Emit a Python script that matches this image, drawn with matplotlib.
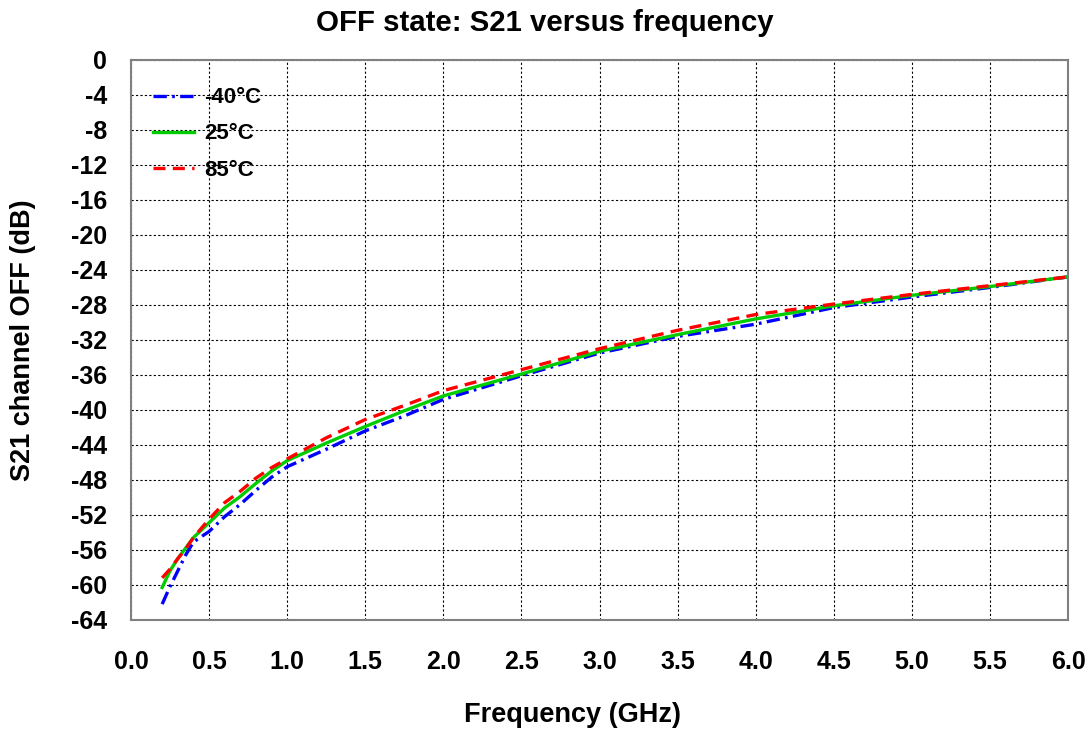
import numpy as np
import matplotlib
matplotlib.use("Agg")
import matplotlib.pyplot as plt

plt.rcParams["font.family"] = ["Liberation Sans", "DejaVu Sans"]
plt.rcParams["font.weight"] = "bold"

# frequency points (GHz) and S21 OFF (dB)
freq = [0.2, 0.25, 0.3, 0.35, 0.4, 0.5, 0.6, 0.7, 0.8, 0.9, 1.0, 1.25, 1.5, 1.75,
        2.0, 2.5, 3.0, 3.5, 4.0, 4.5, 5.0, 5.5, 6.0]
s21_m40 = [-62.2, -60.2, -58.4, -56.6, -55.1, -53.9, -52.2, -50.8, -49.2, -47.7, -46.5, -44.5, -42.4, -40.7,
           -38.8, -36.1, -33.5, -31.6, -30.2, -28.3, -27.1, -26.0, -24.8]
s21_25 = [-60.3, -58.4, -57.0, -55.8, -54.6, -52.9, -51.2, -49.9, -48.4, -47.0, -45.8, -43.8, -41.9, -40.1,
          -38.4, -35.9, -33.3, -31.4, -29.6, -28.1, -26.9, -25.9, -24.8]
s21_85 = [-59.2, -58.2, -57.0, -55.9, -54.6, -52.5, -50.6, -49.3, -47.8, -46.6, -45.6, -43.2, -41.1, -39.5,
          -37.8, -35.4, -33.0, -30.9, -29.1, -27.9, -26.8, -25.8, -24.8]

xticks = np.arange(0, 6.01, 0.5)
yticks = np.arange(-64, 0.1, 4)

fig = plt.figure(figsize=(10.91, 7.31), dpi=100)
ax = fig.add_axes([0.12, 0.152, 0.859, 0.766])

ax.plot(freq, s21_m40, color="#0000ff", lw=2.4, dashes=(4, 1.6, 0.8, 1.6), label="-40°C")
ax.plot(freq, s21_25, color="#00cc00", lw=2.4, label="25°C")
ax.plot(freq, s21_85, color="#ff0000", lw=2.4, dashes=(3.6, 2.2), label="85°C")

ax.set_xlim(0, 6)
ax.set_ylim(-64, 0)
ax.set_xticks(xticks)
ax.set_yticks(yticks)
ax.set_xticklabels([f"{v:.1f}" for v in xticks])
ax.set_yticklabels([f"{int(v)}" for v in yticks])
ax.tick_params(axis="both", length=0, labelsize=18)
ax.tick_params(axis="x", pad=22)
ax.tick_params(axis="y", pad=17)
ax.grid(True, color="black", linestyle=(0, (2, 2)), linewidth=0.8)

for s in ax.spines.values():
    s.set_color("#808080")
    s.set_linewidth(1.5)

ax.set_title("OFF state: S21 versus frequency", fontsize=21.2, fontweight="bold",
             pad=21, x=0.442)
ax.set_xlabel("Frequency (GHz)", fontsize=19.5, fontweight="bold", labelpad=20, x=0.471)
ax.set_ylabel("S21 channel OFF (dB)", fontsize=19.5, fontweight="bold", labelpad=25)

leg = ax.legend(loc="upper left", frameon=False, fontsize=16, handlelength=1.85,
                handletextpad=0.45, labelspacing=0.68, borderaxespad=0.0,
                bbox_to_anchor=(0.014, 0.967))
for t in leg.get_texts():
    t.set_fontweight("bold")

fig.savefig("out.png", dpi=100)
